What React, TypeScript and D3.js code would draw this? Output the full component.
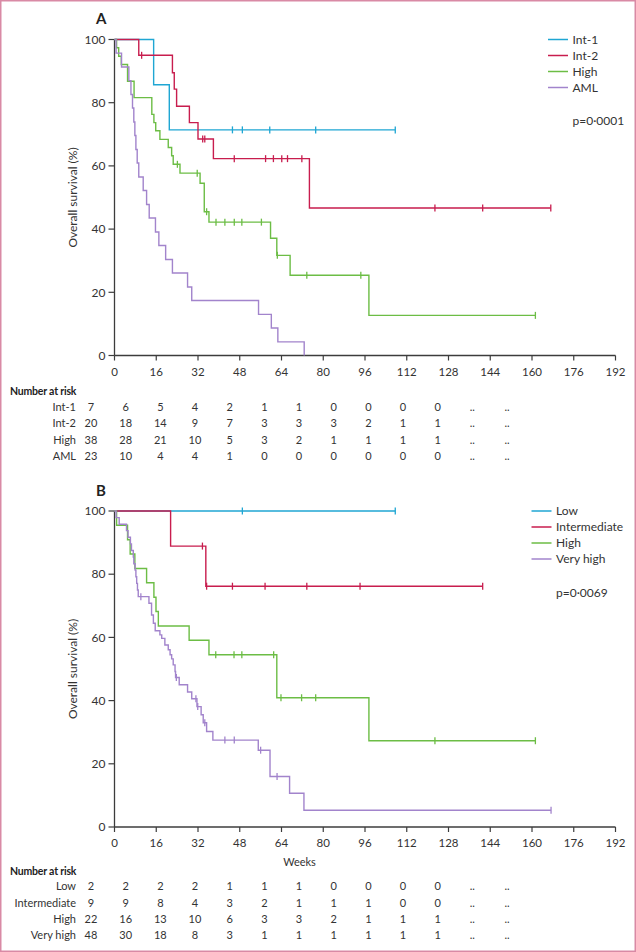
import React from "react";
import * as d3 from "d3";

// ---------- shared ticks ----------
const weekTicks = [0, 16, 32, 48, 64, 80, 96, 112, 128, 144, 160, 176, 192];
const survTicks = [0, 20, 40, 60, 80, 100];

// ---------- Panel A data ----------
const aLabels = ["Int-1", "Int-2", "High", "AML"];
const aInt1Times = [15, 21];
const aInt1Surv = [85.7, 71.4];
const aInt1Censor = [45.2, 49, 59.5, 77.1, 107.6];

const aInt2Times = [9.3, 22.2, 22.9, 23.8, 28.7, 32.0, 37.9, 74.7];
const aInt2Surv = [95, 89.5, 84.3, 78.9, 73.7, 68.5, 62.3, 46.7];
const aInt2Censor = [10.4, 33.8, 34.6, 45.9, 57.9, 60.9, 64.1, 66.3, 71.8, 122.8, 141.1, 167.2];

const aHighTimes = [0.8, 1.6, 2.6, 5.0, 7.5, 14.3, 15.1, 15.8, 17.4, 20.6, 21.9, 22.5, 25.1, 32.8, 34.4, 36.2, 59.8, 62.2, 67.3, 97.5];
const aHighSurv = [97.4, 94.7, 92.1, 86.8, 81.6, 76.3, 73.7, 71.1, 68.4, 65.8, 63.2, 60.5, 57.7, 54.5, 45.5, 42.2, 37.1, 31.7, 25.4, 12.7];
const aHighCensor = [24.1, 31.7, 35.3, 38.9, 42.3, 45.9, 48.8, 56.3, 62.4, 73.7, 94.4, 161.3];

const aAmlTimes = [0.6, 2.7, 5.5, 6.3, 6.9, 7.4, 7.8, 8.2, 8.7, 9.3, 11.0, 12.3, 13.3, 15.7, 17.0, 19.6, 22.2, 28.0, 29.6, 55.2, 60.1, 62.6, 72.7];
const aAmlSurv = [95.7, 91.3, 87.0, 82.6, 78.3, 73.9, 69.6, 65.2, 60.9, 56.5, 52.2, 47.8, 43.5, 39.1, 34.8, 30.4, 26.1, 21.7, 17.4, 13.0, 8.7, 4.3, 0];
const aAmlCensor: number[] = [];

const aRiskInt1 = [7, 6, 5, 4, 2, 1, 1, 0, 0, 0, 0, null, null];
const aRiskInt2 = [20, 18, 14, 9, 7, 3, 3, 3, 2, 1, 1, null, null];
const aRiskHigh = [38, 28, 21, 10, 5, 3, 2, 1, 1, 1, 1, null, null];
const aRiskAml = [23, 10, 4, 4, 1, 0, 0, 0, 0, 0, 0, null, null];

// ---------- Panel B data ----------
const bLabels = ["Low", "Intermediate", "High", "Very high"];
const bLowTimes: number[] = [];
const bLowSurv: number[] = [];
const bLowCensor = [49, 107.6];

const bIntTimes = [21.5, 35];
const bIntSurv = [88.9, 76.2];
const bIntCensor = [33.7, 35.3, 45.2, 57.7, 73.7, 94.1, 141.1];

const bHighTimes = [0.8, 5.0, 6.0, 7.8, 12.3, 15.1, 15.9, 16.8, 28.6, 36.2, 62.2, 97.5];
const bHighSurv = [95.5, 90.9, 86.4, 81.8, 77.3, 72.7, 68.2, 63.6, 59.1, 54.5, 40.9, 27.3];
const bHighCensor = [38.8, 45.8, 48.8, 61, 63.8, 71.7, 77.1, 122.8, 161.3];

const bVhTimes = [0.6, 1.8, 4.6, 5.2, 6.1, 6.5, 7.2, 7.4, 7.9, 8.2, 8.5, 8.8, 9.1, 13.2, 14.2, 14.9, 15.6, 17.4, 18.1, 19.3, 20.6, 21.3, 21.9, 22.5, 23.2, 23.4, 24.8, 28.0, 29.6, 31.6, 33.2, 34.0, 35.3, 37.7, 55.1, 59.6, 67.1, 72.6];
const bVhSurv = [97.9, 95.8, 93.8, 91.7, 89.6, 87.5, 85.4, 83.3, 81.3, 79.2, 77.1, 75.0, 72.9, 70.8, 67.1, 64.5, 62.1, 60.8, 59.7, 57.6, 56.1, 54.5, 53.2, 51.3, 49.2, 47.3, 45.0, 42.7, 40.6, 38.1, 35.5, 33.0, 30.2, 27.5, 24.3, 16.0, 10.7, 5.3];
const bVhCensor = [10.1, 23.7, 31.2, 31.9, 34.6, 42.3, 45.9, 56.0, 62.3, 167.3];

const bRiskLow = [2, 2, 2, 2, 1, 1, 1, 0, 0, 0, 0, null, null];
const bRiskInt = [9, 9, 8, 4, 3, 2, 1, 1, 1, 0, 0, null, null];
const bRiskHigh = [22, 16, 13, 10, 6, 3, 3, 2, 1, 1, 1, null, null];
const bRiskVh = [48, 30, 18, 8, 3, 1, 1, 1, 1, 1, 1, null, null];

// ---------- style ----------
const COLORS = ["#1fa6d3", "#c81d4e", "#6cbd45", "#a284cc"];
const FONT = "Lato, 'Open Sans', sans-serif";
const TEXT = "#333333";
const AXIS = "#3c3c3c";

const W = 636;
const H = 952;

const x = d3.scaleLinear().domain([0, 192]).range([114.5, 615.5]);
const col = d3.scalePoint<string>().domain(weekTicks.map(String)).range([91, 507]);

type Series = { times: number[]; surv: number[]; censor: number[] };

function survAt(s: Series, t: number) {
  let v = 100;
  s.times.forEach((tt, i) => {
    if (tt <= t) v = s.surv[i];
  });
  return v;
}

function Panel(props: {
  letter: string;
  top: number;
  bottom: number;
  series: Series[];
  labels: string[];
  pText: string;
  legendX: number;
  risk: (number | null)[][];
  tableHeaderY: number;
  showWeeks: boolean;
}) {
  const { letter, top, bottom, series, labels, pText, legendX, risk, tableHeaderY, showWeeks } = props;
  const y = d3.scaleLinear().domain([0, 100]).range([bottom, top]);
  const line = d3
    .line<[number, number]>()
    .x((d) => x(d[0]))
    .y((d) => y(d[1]))
    .curve(d3.curveStepAfter);

  return (
    <g>
      <text x={96} y={top - 15.5} fontFamily={FONT} fontWeight={700} fontSize={15} fill="#222">
        {letter}
      </text>
      {/* y axis */}
      <line x1={x(0)} x2={x(0)} y1={y(0)} y2={y(100)} stroke={AXIS} strokeWidth={1.3} />
      {survTicks.map((t) => (
        <g key={"y" + t}>
          <line x1={x(0) - 6} x2={x(0)} y1={y(t)} y2={y(t)} stroke={AXIS} strokeWidth={1.2} />
          <text x={x(0) - 9} y={y(t)} dy="0.35em" textAnchor="end" fontFamily={FONT} fontSize={12} fill={TEXT}>
            {t}
          </text>
        </g>
      ))}
      <text
        transform={`translate(72.5,${(y(0) + y(100)) / 2}) rotate(-90)`}
        textAnchor="middle"
        dy="0.35em"
        fontFamily={FONT}
        fontSize={12}
        fill={TEXT}
      >
        Overall survival (%)
      </text>
      {/* x axis */}
      <line x1={x(0)} x2={x(192)} y1={y(0)} y2={y(0)} stroke={AXIS} strokeWidth={1.3} />
      {weekTicks.map((t) => (
        <g key={"x" + t}>
          <line x1={x(t)} x2={x(t)} y1={y(0)} y2={y(0) + 5} stroke={AXIS} strokeWidth={1.2} />
          <text x={x(t)} y={y(0) + 16} dy="0.35em" textAnchor="middle" fontFamily={FONT} fontSize={11.5} fill={TEXT}>
            {t}
          </text>
        </g>
      ))}
      {showWeeks && (
        <text x={299.5} y={y(0) + 35} dy="0.35em" textAnchor="middle" fontFamily={FONT} fontSize={11} fill={TEXT}>
          Weeks
        </text>
      )}
      {/* curves */}
      {series.map((s, i) => {
        const end = Math.max(s.times.length ? s.times[s.times.length - 1] : 0, s.censor.length ? d3.max(s.censor)! : 0);
        const pts: [number, number][] = [[0, 100], ...s.times.map((t, j) => [t, s.surv[j]] as [number, number])];
        pts.push([end, survAt(s, end)]);
        return (
          <g key={"s" + i}>
            <path d={line(pts) || ""} fill="none" stroke={COLORS[i]} strokeWidth={1.4} />
            {s.censor.map((c, k) => (
              <line
                key={k}
                x1={x(c)}
                x2={x(c)}
                y1={y(survAt(s, c)) - 3.5}
                y2={y(survAt(s, c)) + 3.5}
                stroke={COLORS[i]}
                strokeWidth={1.3}
              />
            ))}
          </g>
        );
      })}
      {/* legend */}
      {labels.map((l, i) => (
        <g key={"l" + i}>
          <line x1={legendX} x2={legendX + 20} y1={top + i * 16} y2={top + i * 16} stroke={COLORS[i]} strokeWidth={1.5} />
          <text x={legendX + 24.5} y={top + i * 16} dy="0.35em" fontFamily={FONT} fontSize={12} fill={TEXT}>
            {l}
          </text>
        </g>
      ))}
      <text x={legendX + 24.5} y={top + 81.5} dy="0.35em" fontFamily={FONT} fontSize={12} fill={TEXT}>
        {pText}
      </text>
      {/* risk table */}
      <text x={10} y={tableHeaderY} dy="0.35em" fontFamily={FONT} fontWeight={700} fontSize={10.5} letterSpacing={-0.2} fill="#222">
        Number at risk
      </text>
      {risk.map((row, r) => (
        <g key={"r" + r}>
          <text x={76} y={tableHeaderY + 15.3 + r * 16.4} dy="0.35em" textAnchor="end" fontFamily={FONT} fontSize={11} fill={TEXT}>
            {labels[r]}
          </text>
          {row.map((v, c) => (
            <text
              key={c}
              x={col(String(weekTicks[c]))}
              y={tableHeaderY + 15.3 + r * 16.4}
              dy="0.35em"
              textAnchor="middle"
              fontFamily={FONT}
              fontSize={11}
              fill={TEXT}
            >
              {v === null ? ".." : v}
            </text>
          ))}
        </g>
      ))}
    </g>
  );
}

export default function App() {
  const seriesA: Series[] = [
    { times: aInt1Times, surv: aInt1Surv, censor: aInt1Censor },
    { times: aInt2Times, surv: aInt2Surv, censor: aInt2Censor },
    { times: aHighTimes, surv: aHighSurv, censor: aHighCensor },
    { times: aAmlTimes, surv: aAmlSurv, censor: aAmlCensor },
  ];
  const seriesB: Series[] = [
    { times: bLowTimes, surv: bLowSurv, censor: bLowCensor },
    { times: bIntTimes, surv: bIntSurv, censor: bIntCensor },
    { times: bHighTimes, surv: bHighSurv, censor: bHighCensor },
    { times: bVhTimes, surv: bVhSurv, censor: bVhCensor },
  ];
  return (
    <svg
      width={W}
      height={H}
      viewBox={`0 0 ${W} ${H}`}
      style={{ position: "absolute", left: 0, top: 0, background: "#fff" }}
    >
      <rect x={0} y={0} width={W} height={H} fill="#fff" />
      <rect x={0.75} y={0.75} width={W - 1.5} height={H - 1.5} fill="none" stroke="#d98aa5" strokeWidth={1.5} />
      <Panel
        letter="A"
        top={39.5}
        bottom={355.5}
        series={seriesA}
        labels={aLabels}
        pText="p=0·0001"
        legendX={548}
        risk={[aRiskInt1, aRiskInt2, aRiskHigh, aRiskAml]}
        tableHeaderY={391.7}
        showWeeks={false}
      />
      <Panel
        letter="B"
        top={511}
        bottom={827}
        series={seriesB}
        labels={bLabels}
        pText="p=0·0069"
        legendX={531.5}
        risk={[bRiskLow, bRiskInt, bRiskHigh, bRiskVh]}
        tableHeaderY={871}
        showWeeks={true}
      />
    </svg>
  );
}
